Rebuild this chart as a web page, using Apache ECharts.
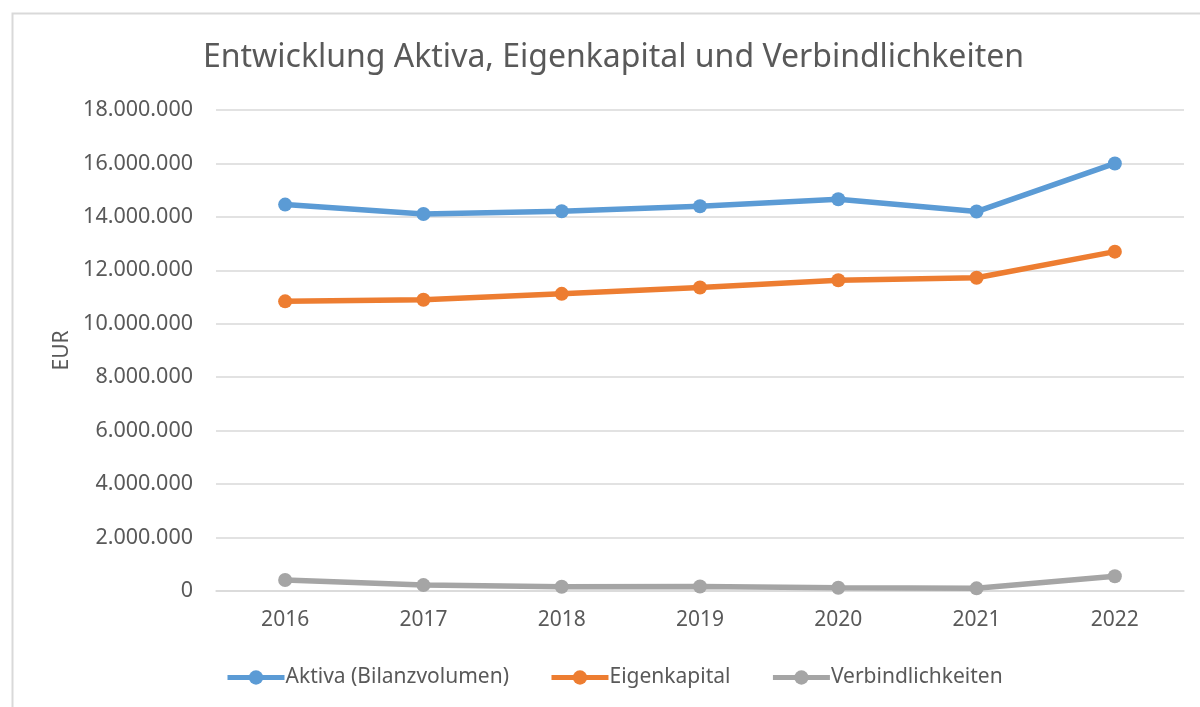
<!DOCTYPE html>
<html>
<head>
<meta charset="utf-8">
<script src="https://cdn.jsdelivr.net/npm/echarts@6/dist/echarts.min.js"></script>
<style>
html,body{margin:0;padding:0;background:#fff;}
#chart{width:1200px;height:707px;}
</style>
</head>
<body>
<div id="chart"></div>
<script>
const categories = ['2016','2017','2018','2019','2020','2021','2022'];
const aktiva = [14460000, 14110000, 14210000, 14400000, 14660000, 14200000, 16000000];
const eigenkapital = [10840000, 10900000, 11120000, 11360000, 11630000, 11720000, 12700000];
const verbindlichkeiten = [410000, 220000, 160000, 170000, 120000, 100000, 550000];
const seriesNames = ['Aktiva (Bilanzvolumen)', 'Eigenkapital', 'Verbindlichkeiten'];
const colors = ['#5B9BD5', '#ED7D31', '#A5A5A5'];

const FONT = 'Noto Sans';
const chart = echarts.init(document.getElementById('chart'), null, {renderer: 'canvas'});

function fmt(v){
  return String(Math.round(v)).replace(/\B(?=(\d{3})+(?!\d))/g, '.');
}

function mk(name, data, color){
  return {
    name: name, type: 'line', data: data,
    symbol: 'circle', symbolSize: 14,
    lineStyle: {width: 5.5, color: color},
    itemStyle: {color: color},
    emphasis: {disabled: true},
    animation: false
  };
}

chart.setOption({
  backgroundColor: '#fff',
  animation: false,
  color: colors,
  graphic: [{
    type: 'rect', left: 10, top: 11, z: -10,
    shape: {width: 1300, height: 800},
    style: {fill: 'none', stroke: '#D9D9D9', lineWidth: 2}
  }],
  title: {
    text: 'Entwicklung Aktiva, Eigenkapital und Verbindlichkeiten',
    left: 198, top: 37,
    textStyle: {fontFamily: FONT, fontSize: 32, fontWeight: 'normal', color: '#595959'}
  },
  grid: {left: 216, right: 16, top: 110, bottom: 116, containLabel: false},
  legend: {
    data: seriesNames,
    left: 220, top: 662,
    itemWidth: 57, itemHeight: 18, itemGap: 40,
    lineStyle: {width: 5},
    textStyle: {fontFamily: FONT, fontSize: 21, color: '#595959', padding: [0,0,0,-4]}
  },
  xAxis: {
    type: 'category', data: categories, boundaryGap: true,
    axisLine: {show: true, lineStyle: {color: '#D9D9D9', width: 1.5}},
    axisTick: {show: false},
    axisLabel: {fontFamily: FONT, fontSize: 21, color: '#595959', margin: 19}
  },
  yAxis: {
    type: 'value', min: 0, max: 18000000, interval: 2000000,
    name: 'EUR', nameLocation: 'middle', nameGap: 143, nameRotate: 90,
    nameTextStyle: {fontFamily: FONT, fontSize: 21, color: '#595959'},
    axisLine: {show: false}, axisTick: {show: false},
    splitLine: {lineStyle: {color: '#D9D9D9', width: 1.5}},
    axisLabel: {fontFamily: FONT, fontSize: 21.5, color: '#595959', margin: 23, formatter: fmt}
  },
  series: [
    mk(seriesNames[0], aktiva, colors[0]),
    mk(seriesNames[1], eigenkapital, colors[1]),
    mk(seriesNames[2], verbindlichkeiten, colors[2])
  ]
});
</script>
</body>
</html>
